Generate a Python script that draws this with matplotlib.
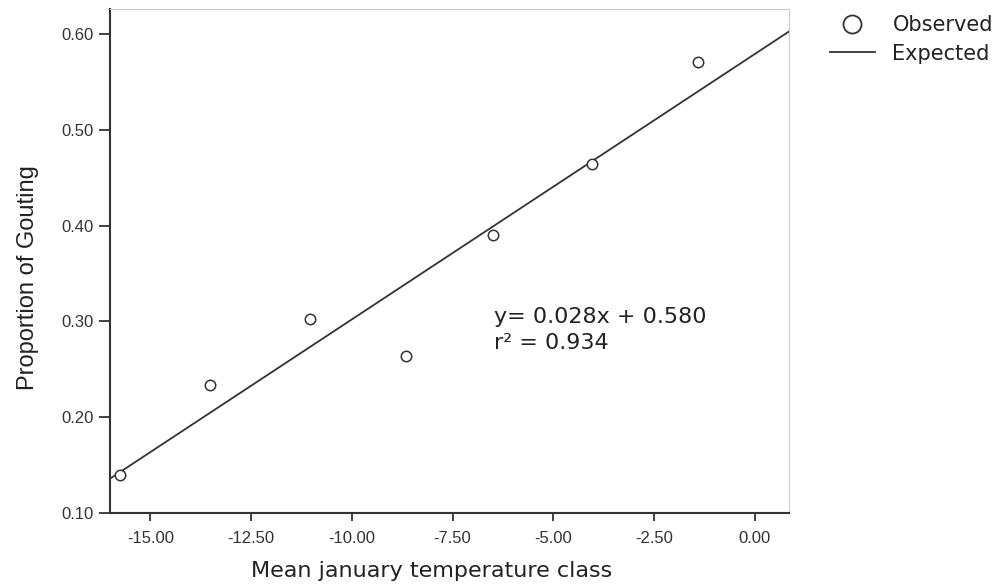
import numpy as np
import matplotlib
matplotlib.use("Agg")
import matplotlib.pyplot as plt
from matplotlib.lines import Line2D

# Data
temperature = [-15.75, -13.53, -11.04, -8.66, -6.49, -4.05, -1.42]
gout_prop = [0.140, 0.234, 0.302, 0.264, 0.390, 0.464, 0.571]
x_ticks = [-15.0, -12.5, -10.0, -7.5, -5.0, -2.5, 0.0]
y_ticks = [0.10, 0.20, 0.30, 0.40, 0.50, 0.60]
eq_text = "y= 0.028x + 0.580\nr² = 0.934"

fig = plt.figure(figsize=(10.08, 5.88), dpi=100)
ax = fig.add_axes([110/1008, 1 - 513/588, 679/1008, 504/588])

xmin, xmax = -16.0, 0.85
slope, intercept = np.polyfit(temperature, gout_prop, 1)
xl = np.array([xmin, xmax])
ax.plot(xl, slope * xl + intercept, color="#333333", lw=1.3, zorder=2)
ax.plot(temperature, gout_prop, linestyle="none", marker="o", ms=7.5,
        mfc="white", mec="#333333", mew=1.1, zorder=3, clip_on=False)

ax.set_xlim(xmin, xmax)
ax.set_ylim(0.10, 0.626)
ax.set_xticks(x_ticks)
ax.set_xticklabels([f"{v:.2f}" for v in x_ticks], fontfamily="Liberation Sans", fontsize=12, color="#333333")
ax.set_yticks(y_ticks)
ax.set_yticklabels([f"{v:.2f}" for v in y_ticks], fontfamily="Liberation Sans", fontsize=12, color="#333333")
ax.tick_params(axis="y", direction="out", length=8, width=1.3, color="#333333", pad=4)
ax.tick_params(axis="x", direction="out", length=6, width=1.3, color="#333333", pad=7)

for s in ["left", "bottom"]:
    ax.spines[s].set_color("#333333")
    ax.spines[s].set_linewidth(1.5)
for s in ["top", "right"]:
    ax.spines[s].set_color("#cccccc")
    ax.spines[s].set_linewidth(0.8)

ax.set_xlabel("Mean january temperature class", fontfamily="DejaVu Sans", fontsize=16, color="#222222", labelpad=5)
ax.xaxis.set_label_coords(0.473, -0.095)
ax.set_ylabel("Proportion of Gouting", fontfamily="Liberation Sans", fontsize=17, color="#222222")
ax.yaxis.set_label_coords(-0.105, 0.467)

ax.text(0.566, 0.408, eq_text, transform=ax.transAxes, fontfamily="DejaVu Sans",
        fontsize=16, color="#222222", va="top", ha="left", linespacing=1.35)

handles = [
    Line2D([], [], linestyle="none", marker="o", ms=13, mfc="white", mec="#333333", mew=1.3),
    Line2D([], [], color="#333333", lw=1.3),
]
leg = fig.legend(handles, ["Observed", "Expected"], loc="upper left",
                 bbox_to_anchor=(830/1008, 1 - 15/588), frameon=False,
                 prop={"family": "DejaVu Sans", "size": 15}, handlelength=2.15,
                 handletextpad=0.85, labelspacing=0.42, borderaxespad=0, borderpad=0)
for t in leg.get_texts():
    t.set_color("#222222")

fig.savefig("out.png", dpi=100)
